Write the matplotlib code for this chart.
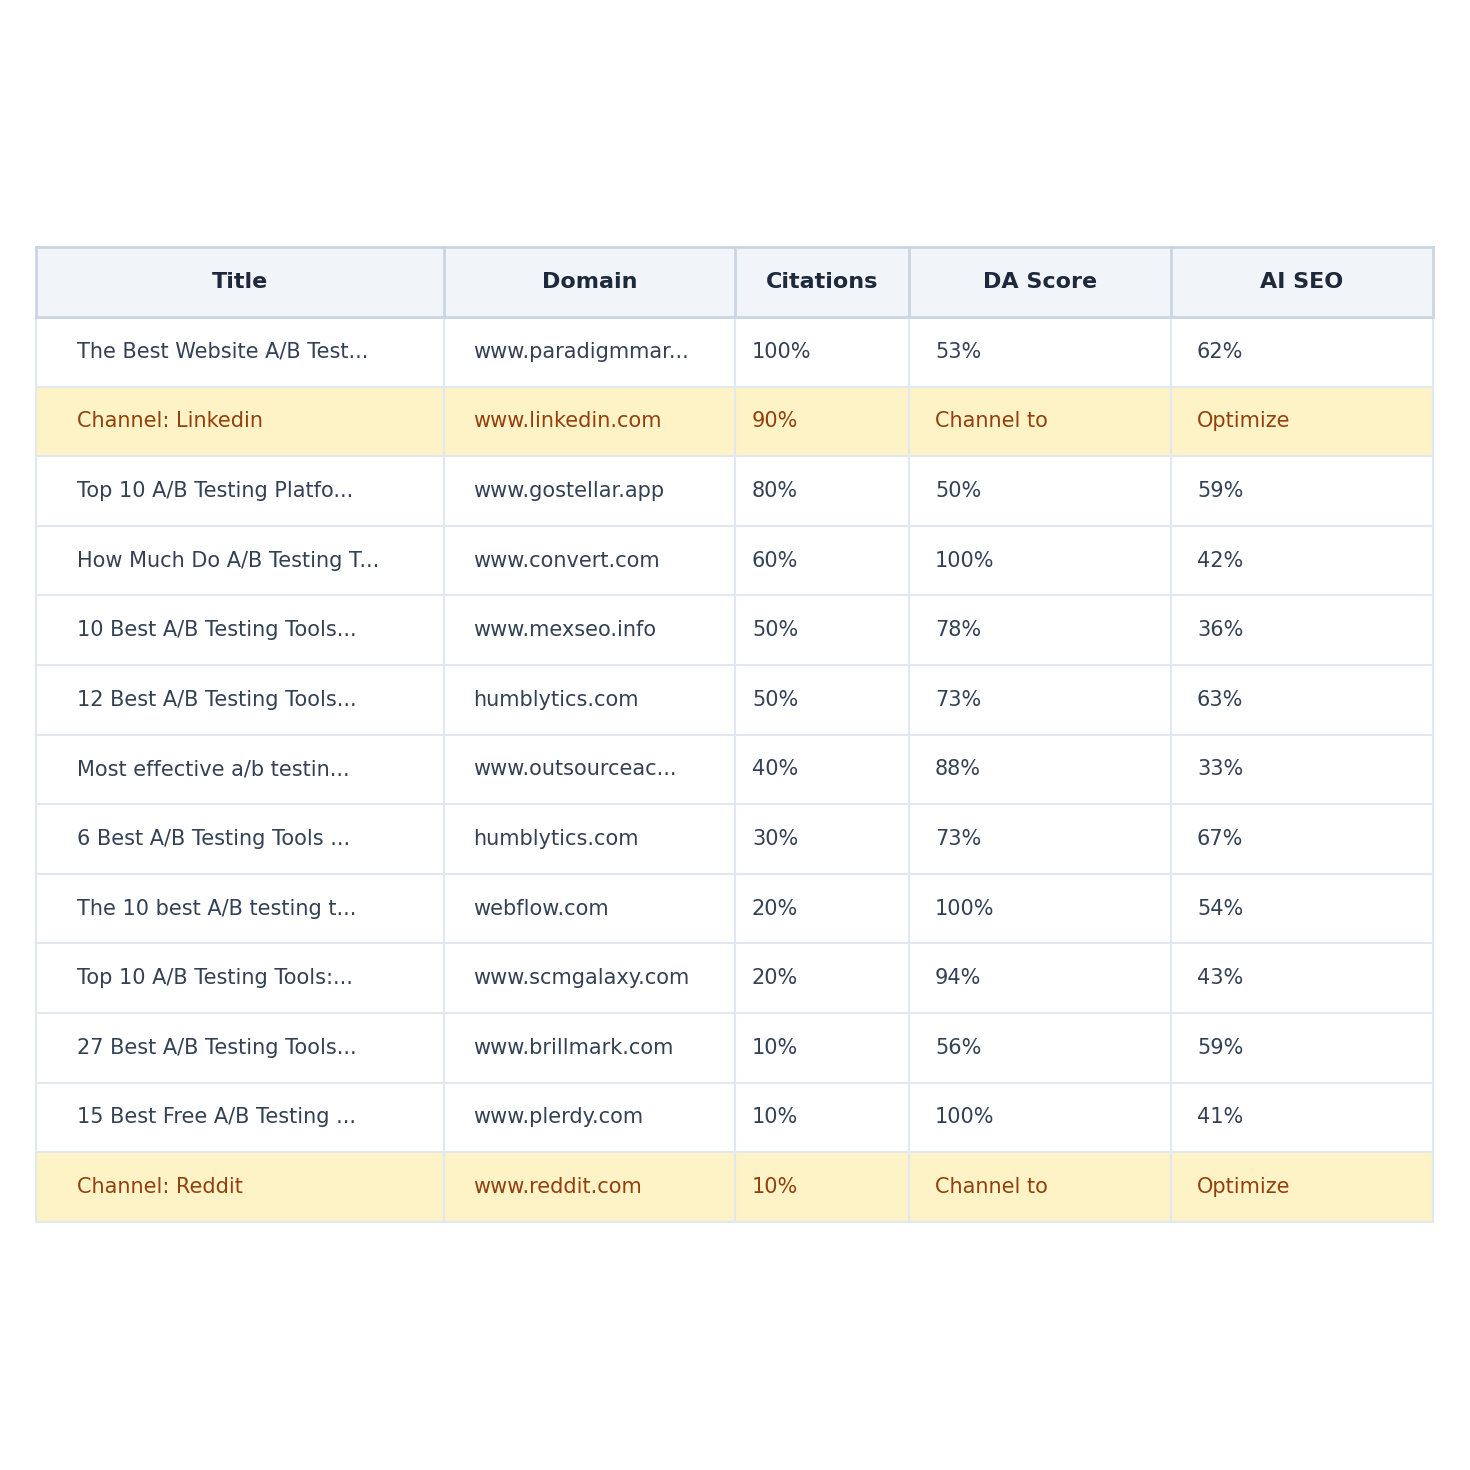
import matplotlib
matplotlib.use("Agg")
import matplotlib.pyplot as plt
from matplotlib.patches import Rectangle

headers = ["Title", "Domain", "Citations", "DA Score", "AI SEO"]
titles = ["The Best Website A/B Test...", "Channel: Linkedin", "Top 10 A/B Testing Platfo...",
          "How Much Do A/B Testing T...", "10 Best A/B Testing Tools...", "12 Best A/B Testing Tools...",
          "Most effective a/b testin...", "6 Best A/B Testing Tools ...", "The 10 best A/B testing t...",
          "Top 10 A/B Testing Tools:...", "27 Best A/B Testing Tools...", "15 Best Free A/B Testing ...",
          "Channel: Reddit"]
domains = ["www.paradigmmar...", "www.linkedin.com", "www.gostellar.app", "www.convert.com",
           "www.mexseo.info", "humblytics.com", "www.outsourceac...", "humblytics.com",
           "webflow.com", "www.scmgalaxy.com", "www.brillmark.com", "www.plerdy.com", "www.reddit.com"]
citations = ["100%", "90%", "80%", "60%", "50%", "50%", "40%", "30%", "20%", "20%", "10%", "10%", "10%"]
da_score = ["53%", "Channel to", "50%", "100%", "78%", "73%", "88%", "73%", "100%", "94%", "56%", "100%", "Channel to"]
ai_seo = ["62%", "Optimize", "59%", "42%", "36%", "63%", "33%", "67%", "54%", "43%", "59%", "41%", "Optimize"]
highlight = [False, True, False, False, False, False, False, False, False, False, False, False, True]

col_edges = [36, 444, 735, 909, 1171, 1433]
pads = [41, 29, 17, 26, 26]
top, head_h, row_h = 247, 70, 69.6

fig = plt.figure(figsize=(14.7, 14.7), dpi=100)
ax = fig.add_axes([0, 0, 1, 1])
ax.set_xlim(0, 1470); ax.set_ylim(1470, 0); ax.axis("off")

ax.add_patch(Rectangle((col_edges[0], top), col_edges[-1]-col_edges[0], head_h, fc="#f1f5f9", ec="none"))
for i, h in enumerate(headers):
    cx = (col_edges[i]+col_edges[i+1])/2
    ax.text(cx, top+head_h/2, h, ha="center", va="center", fontsize=16, fontweight="bold", color="#1e293b")

cols = [titles, domains, citations, da_score, ai_seo]
for r in range(len(titles)):
    y0 = top + head_h + r*row_h
    hl = highlight[r]
    if hl:
        ax.add_patch(Rectangle((col_edges[0], y0), col_edges[-1]-col_edges[0], row_h, fc="#fef3c7", ec="none"))
    for c in range(5):
        ax.text(col_edges[c]+pads[c], y0+row_h/2, cols[c][r], ha="left", va="center",
                fontsize=15, color="#92400e" if hl else "#334155")
    ax.plot([col_edges[0], col_edges[-1]], [y0+row_h]*2, color="#e2e8f0", lw=1.5)

bottom = top + head_h + len(titles)*row_h
for x in col_edges:
    ax.plot([x, x], [top+head_h, bottom], color="#e2e8f0", lw=1.5)
    ax.plot([x, x], [top, top+head_h], color="#cbd5e1", lw=2)
ax.plot([col_edges[0], col_edges[-1]], [top, top], color="#cbd5e1", lw=2)
ax.plot([col_edges[0], col_edges[-1]], [top+head_h]*2, color="#cbd5e1", lw=2)

fig.savefig("out.png", dpi=100, facecolor="white")
